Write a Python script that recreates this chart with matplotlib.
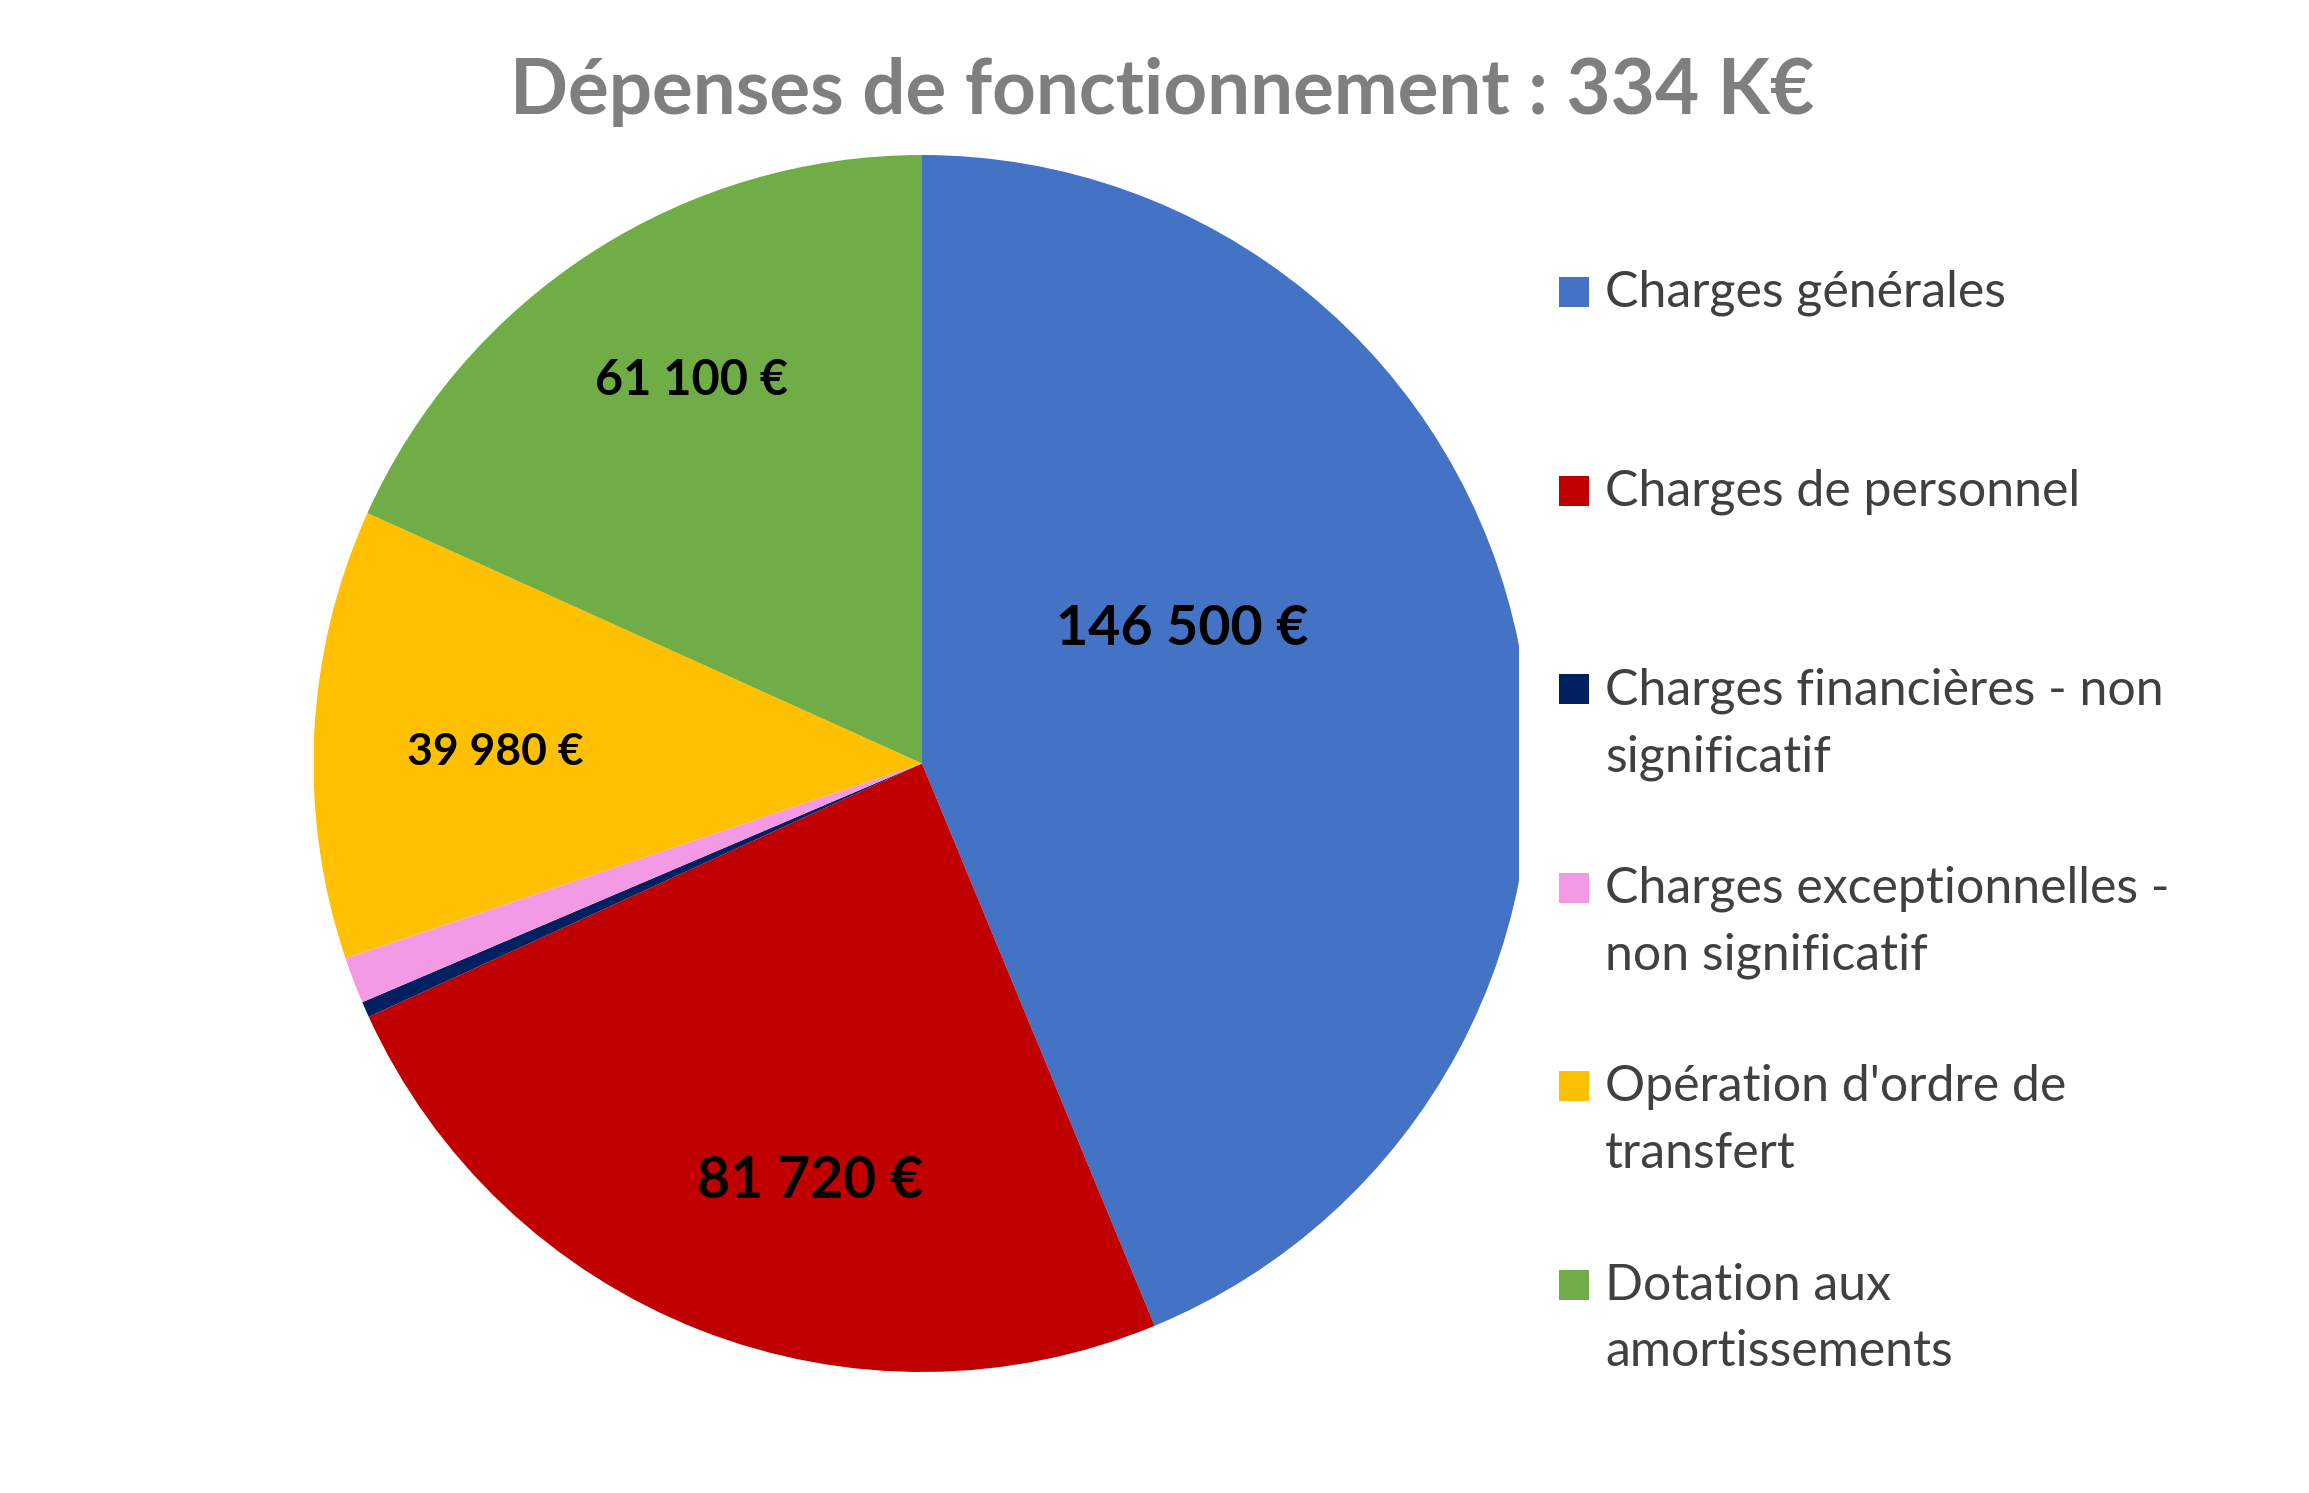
import matplotlib.pyplot as plt
from matplotlib.patches import Rectangle

# data
categories = ["Charges générales", "Charges de personnel",
              "Charges financières - non\nsignificatif",
              "Charges exceptionnelles -\nnon significatif",
              "Opération d'ordre de\ntransfert",
              "Dotation aux\namortissements"]
values = [146500, 81720, 1400, 4100, 39980, 61100]
value_labels = ["146 500 €", "81 720 €", None, None, "39 980 €", "61 100 €"]
colors = ["#4472C4", "#C00000", "#002060", "#F499E4", "#FFC000", "#70AD47"]

# label placement (axes data units, baseline) and sizes
label_xy = [(0.427, 0.195), (-0.184, -0.714), None, None, (-0.702, -0.002), (-0.378, 0.606)]
label_size = [40, 41, None, None, 32, 35]

plt.rcParams['font.family'] = ['Lato', 'DejaVu Sans']

W, H = 2309, 1493
fig = plt.figure(figsize=(W / 100, H / 100), dpi=100)

cx, cy, r = 922, 763.5, 608.5
clip_right = 1519
ax = fig.add_axes([(cx - r) / W, (H - cy - r) / H, (clip_right - (cx - r)) / W, 2 * r / H])
wedges, _ = ax.pie(values, colors=colors, startangle=90, counterclock=False, radius=1,
                   wedgeprops=dict(linewidth=0))
for w in wedges:
    w.set_clip_on(True)
    w.set_clip_box(ax.bbox)
ax.set_aspect('auto')
ax.set_xlim(-1, (clip_right - cx) / r)
ax.set_ylim(-1, 1)
ax.axis('off')

for lab, xy, fs in zip(value_labels, label_xy, label_size):
    if lab is None:
        continue
    ax.text(xy[0], xy[1], lab, ha='center', va='baseline', fontsize=fs,
            fontweight='bold', color='black')

fig.text(1162 / W, 1 - 114 / H, "Dépenses de fonctionnement : 334 K€",
         ha='center', va='baseline', fontsize=55, fontweight='bold', color='#7F7F7F')

# legend drawn by hand so markers line up with first text line
box = 30
for i, (cat, col) in enumerate(zip(categories, colors)):
    y_base = 307 + i * 198.5
    fig.patches.append(Rectangle((1559 / W, 1 - y_base / H), box / W, box / H,
                                 transform=fig.transFigure, color=col, lw=0))
    for k, line in enumerate(cat.split("\n")):
        fig.text(1605 / W, 1 - (y_base + k * 67) / H, line, ha='left', va='baseline',
                 fontsize=36, color='#404040')

fig.savefig("out.png", dpi=100)
